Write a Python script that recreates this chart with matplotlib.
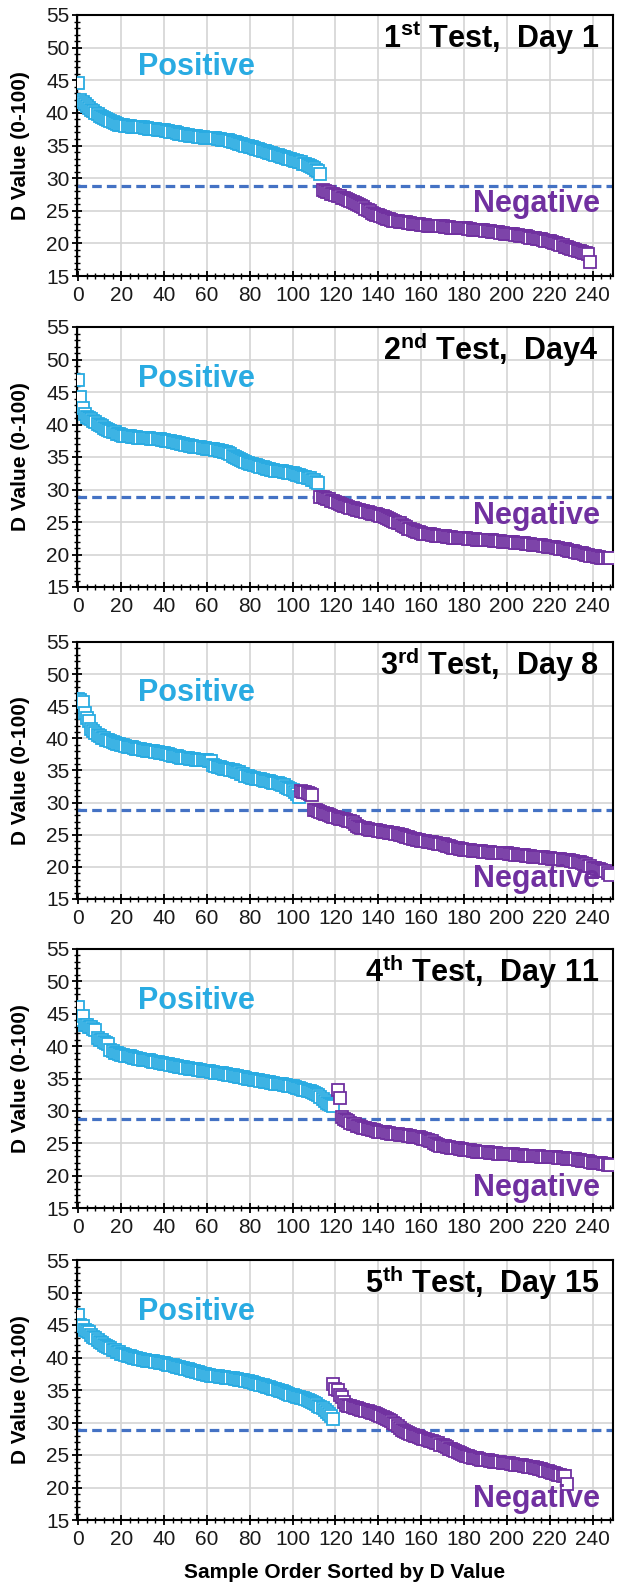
import matplotlib
matplotlib.use("Agg")
import matplotlib.pyplot as plt
from matplotlib.ticker import MultipleLocator
import numpy as np

plt.rcParams['font.family'] = ['Liberation Sans', 'DejaVu Sans']
plt.rcParams['mathtext.fontset'] = 'custom'
plt.rcParams['mathtext.rm'] = 'Liberation Sans'
plt.rcParams['mathtext.bf'] = 'Liberation Sans:bold'

# panel titles
ordinals = ["1", "2", "3", "4", "5"]
suffixes = ["st", "nd", "rd", "th", "th"]
days = ["Day 1", "Day4", "Day 8", "Day 11", "Day 15"]

cutoff = 28.8

# D values, sorted; positives start at sample 0
pos1 = [44.6, 42.0, 41.7, 41.3, 41.0, 40.8, 40.5, 40.3, 40.0, 39.8,
        39.5, 39.3, 39.2, 39.0, 38.9, 38.7, 38.6, 38.5, 38.3, 38.2,
        38.1, 38.1, 38.0, 38.0, 38.0, 37.9, 37.9, 37.9, 37.8, 37.8,
        37.8, 37.7, 37.7, 37.6, 37.6, 37.5, 37.5, 37.4, 37.4, 37.3,
        37.3, 37.2, 37.2, 37.1, 37.0, 37.0, 36.9, 36.8, 36.7, 36.7,
        36.6, 36.6, 36.5, 36.5, 36.4, 36.4, 36.3, 36.3, 36.3, 36.2,
        36.2, 36.2, 36.1, 36.1, 36.1, 36.0, 36.0, 35.9, 35.9, 35.8,
        35.8, 35.7, 35.6, 35.5, 35.4, 35.3, 35.2, 35.1, 35.0, 34.9,
        34.8, 34.7, 34.6, 34.5, 34.4, 34.3, 34.2, 34.1, 34.0, 33.9,
        33.8, 33.7, 33.6, 33.5, 33.4, 33.3, 33.2, 33.1, 33.0, 32.9,
        32.8, 32.7, 32.6, 32.5, 32.4, 32.2, 32.1, 32.0, 31.8, 31.7,
        31.5, 31.3, 31.1, 30.7]
neg1 = [28.2, 28.0, 27.9, 27.8, 27.6, 27.5,
        27.4, 27.3, 27.2, 27.0, 26.9, 26.8, 26.6, 26.5, 26.3, 26.2,
        26.1, 25.9, 25.7, 25.5, 25.3, 25.1, 24.9, 24.7, 24.5, 24.4,
        24.3, 24.2, 24.0, 23.9, 23.8, 23.7, 23.6, 23.5, 23.4, 23.4,
        23.3, 23.3, 23.2, 23.2, 23.1, 23.1, 23.0, 23.0, 22.9, 22.9,
        22.8, 22.8, 22.8, 22.7, 22.7, 22.7, 22.7, 22.6, 22.6, 22.6,
        22.6, 22.5, 22.5, 22.5, 22.4, 22.4, 22.4, 22.4, 22.3, 22.3,
        22.3, 22.3, 22.2, 22.2, 22.1, 22.1, 22.1, 22.0, 22.0, 22.0,
        21.9, 21.9, 21.9, 21.8, 21.8, 21.7, 21.7, 21.6, 21.6, 21.5,
        21.5, 21.5, 21.4, 21.4, 21.3, 21.3, 21.2, 21.2, 21.1, 21.1,
        21.0, 20.9, 20.9, 20.8, 20.7, 20.7, 20.6, 20.5, 20.4, 20.4,
        20.3, 20.2, 20.1, 20.0, 19.9, 19.8, 19.7, 19.5, 19.4, 19.3,
        19.2, 19.1, 19.0, 18.9, 18.8, 18.7, 18.6, 18.5, 18.4, 17.2]

pos2 = [46.8, 44.3, 42.6, 41.6, 41.2, 41.0, 40.8, 40.6, 40.4, 40.1,
        39.9, 39.7, 39.5, 39.3, 39.2, 39.0, 38.9, 38.8, 38.6, 38.5,
        38.4, 38.3, 38.3, 38.2, 38.2, 38.1, 38.1, 38.1, 38.0, 38.0,
        38.0, 37.9, 37.9, 37.9, 37.8, 37.8, 37.7, 37.7, 37.7, 37.6,
        37.6, 37.5, 37.5, 37.4, 37.3, 37.3, 37.2, 37.1, 37.0, 37.0,
        36.9, 36.8, 36.7, 36.7, 36.6, 36.6, 36.5, 36.5, 36.4, 36.4,
        36.3, 36.3, 36.2, 36.2, 36.1, 36.1, 36.0, 35.9, 35.8, 35.7,
        35.6, 35.4, 35.2, 35.0, 34.9, 34.7, 34.5, 34.4, 34.2, 34.1,
        34.0, 33.9, 33.8, 33.7, 33.6, 33.5, 33.4, 33.3, 33.2, 33.1,
        33.0, 33.0, 32.9, 32.9, 32.8, 32.8, 32.7, 32.7, 32.6, 32.6,
        32.5, 32.4, 32.3, 32.2, 32.1, 32.0, 31.9, 31.8, 31.7, 31.5,
        31.4, 31.2, 31.0]
neg2 = [28.9, 28.8, 28.7, 28.6, 28.5, 28.3, 28.2,
        28.1, 28.0, 27.8, 27.6, 27.5, 27.4, 27.3, 27.2, 27.1, 27.0,
        26.9, 26.8, 26.7, 26.7, 26.6, 26.5, 26.4, 26.3, 26.2, 26.2,
        26.1, 26.0, 25.9, 25.7, 25.6, 25.4, 25.3, 25.1, 25.0, 24.9,
        24.8, 24.6, 24.4, 24.2, 24.0, 23.9, 23.7, 23.6, 23.5, 23.4,
        23.3, 23.2, 23.2, 23.1, 23.1, 23.0, 23.0, 22.9, 22.9, 22.8,
        22.8, 22.8, 22.7, 22.7, 22.7, 22.6, 22.6, 22.6, 22.5, 22.5,
        22.5, 22.5, 22.4, 22.4, 22.4, 22.4, 22.3, 22.3, 22.3, 22.3,
        22.3, 22.2, 22.2, 22.2, 22.1, 22.1, 22.1, 22.1, 22.0, 22.0,
        22.0, 22.0, 21.9, 21.9, 21.8, 21.8, 21.8, 21.7, 21.7, 21.6,
        21.6, 21.6, 21.5, 21.5, 21.5, 21.4, 21.4, 21.3, 21.3, 21.2,
        21.2, 21.1, 21.1, 21.0, 21.0, 20.9, 20.8, 20.8, 20.7, 20.6,
        20.5, 20.5, 20.4, 20.3, 20.3, 20.2, 20.1, 20.0, 19.9, 19.8,
        19.7, 19.7, 19.6, 19.6, 19.5, 19.5, 19.5, 19.4, 19.4]

pos3 = [46.1, 45.9, 45.6, 44.0, 43.2, 42.7, 41.5, 41.1, 40.9, 40.6,
        40.3, 40.1, 40.0, 39.8, 39.7, 39.6, 39.4, 39.3, 39.2, 39.1,
        39.0, 38.9, 38.8, 38.7, 38.6, 38.6, 38.5, 38.4, 38.3, 38.3,
        38.2, 38.2, 38.1, 38.1, 38.0, 38.0, 37.9, 37.9, 37.8, 37.8,
        37.7, 37.6, 37.5, 37.4, 37.3, 37.2, 37.2, 37.1, 37.0, 37.0,
        36.9, 36.9, 36.8, 36.8, 36.8, 36.7, 36.7, 36.7, 36.6, 36.6,
        36.6, 36.5, 36.5, 35.8, 35.7, 35.6, 35.5, 35.4, 35.3, 35.3,
        35.2, 35.1, 35.0, 34.9, 34.8, 34.7, 34.5, 34.4, 34.2, 34.1,
        34.0, 33.9, 33.8, 33.7, 33.7, 33.6, 33.5, 33.4, 33.3, 33.3,
        33.2, 33.1, 33.0, 33.0, 32.9, 32.8, 32.7, 32.5, 32.3, 32.1,
        32.0, 31.7, 31.3, 30.9]
neg3 = [31.8, 31.7, 31.6, 31.5, 31.3, 31.2,
        28.9, 28.8, 28.7, 28.6, 28.4, 28.3, 28.2, 28.1, 27.9, 27.8,
        27.7, 27.6, 27.5, 27.5, 27.4, 27.3, 27.2, 27.1, 27.0, 26.6,
        26.3, 26.2, 26.1, 26.0, 26.0, 25.9, 25.8, 25.8, 25.7, 25.7,
        25.6, 25.6, 25.5, 25.5, 25.4, 25.3, 25.3, 25.2, 25.1, 25.1,
        25.0, 24.9, 24.8, 24.7, 24.6, 24.5, 24.4, 24.3, 24.2, 24.2,
        24.1, 24.0, 24.0, 23.9, 23.9, 23.8, 23.7, 23.7, 23.6, 23.6,
        23.5, 23.4, 23.3, 23.2, 23.1, 23.0, 23.0, 22.9, 22.8, 22.8,
        22.7, 22.7, 22.6, 22.6, 22.5, 22.5, 22.4, 22.4, 22.4, 22.3,
        22.3, 22.3, 22.3, 22.2, 22.2, 22.2, 22.2, 22.1, 22.1, 22.1,
        22.1, 22.0, 22.0, 22.0, 21.9, 21.9, 21.9, 21.8, 21.8, 21.7,
        21.7, 21.7, 21.6, 21.6, 21.6, 21.5, 21.5, 21.5, 21.4, 21.4,
        21.4, 21.3, 21.3, 21.3, 21.2, 21.2, 21.1, 21.1, 21.0, 21.0,
        20.9, 20.9, 20.8, 20.7, 20.7, 20.6, 20.5, 20.4, 20.2, 20.1,
        19.9, 19.8, 19.7, 19.6, 19.5, 19.4, 19.3, 19.1, 18.8]

pos4 = [46.0, 44.1, 44.7, 43.3, 43.2, 43.0, 42.9, 42.6, 42.5, 41.3,
        41.0, 40.9, 40.7, 40.5, 40.3, 39.4, 39.2, 39.0, 38.9, 38.8,
        38.7, 38.6, 38.5, 38.5, 38.4, 38.3, 38.2, 38.1, 38.0, 38.0,
        37.9, 37.9, 37.8, 37.8, 37.7, 37.6, 37.6, 37.5, 37.4, 37.4,
        37.3, 37.3, 37.2, 37.1, 37.1, 37.0, 36.9, 36.8, 36.8, 36.7,
        36.6, 36.6, 36.5, 36.5, 36.4, 36.4, 36.3, 36.3, 36.2, 36.2,
        36.1, 36.1, 36.0, 36.0, 35.9, 35.9, 35.8, 35.8, 35.7, 35.7,
        35.6, 35.6, 35.5, 35.4, 35.4, 35.3, 35.2, 35.2, 35.1, 35.0,
        34.9, 34.9, 34.8, 34.7, 34.7, 34.6, 34.6, 34.5, 34.4, 34.4,
        34.3, 34.3, 34.2, 34.2, 34.1, 34.1, 34.0, 34.0, 33.9, 33.9,
        33.8, 33.7, 33.6, 33.5, 33.4, 33.3, 33.2, 33.1, 33.0, 32.9,
        32.8, 32.6, 32.4, 32.1, 31.8, 31.5, 31.2, 31.0, 30.9, 30.7]
neg4 = [33.3, 32.0, 29.0, 28.8, 28.6, 28.4, 28.2, 28.0, 27.9,
        27.7, 27.6, 27.5, 27.4, 27.3, 27.2, 27.2, 27.1, 27.0, 26.9,
        26.8, 26.8, 26.7, 26.7, 26.6, 26.6, 26.5, 26.5, 26.4, 26.4,
        26.3, 26.3, 26.2, 26.2, 26.1, 26.1, 26.0, 26.0, 25.9, 25.9,
        25.8, 25.7, 25.6, 25.5, 25.4, 25.3, 25.1, 24.9, 24.7, 24.6,
        24.5, 24.5, 24.4, 24.4, 24.3, 24.3, 24.2, 24.2, 24.1, 24.1,
        24.0, 24.0, 23.9, 23.9, 23.8, 23.8, 23.7, 23.7, 23.7, 23.6,
        23.6, 23.6, 23.5, 23.5, 23.5, 23.5, 23.4, 23.4, 23.4, 23.4,
        23.4, 23.3, 23.3, 23.3, 23.2, 23.2, 23.2, 23.2, 23.1, 23.1,
        23.1, 23.1, 23.0, 23.0, 23.0, 23.0, 22.9, 22.9, 22.9, 22.9,
        22.9, 22.8, 22.8, 22.8, 22.7, 22.7, 22.7, 22.7, 22.6, 22.6,
        22.6, 22.5, 22.5, 22.4, 22.4, 22.3, 22.3, 22.2, 22.2, 22.1,
        22.0, 22.0, 21.9, 21.9, 21.9, 21.8, 21.8, 21.7, 21.7]

pos5 = [46.5, 45.0, 44.8, 44.3, 44.1, 44.0, 43.5, 43.2, 43.0, 42.7,
        42.4, 42.2, 42.0, 41.8, 41.6, 41.4, 41.2, 41.1, 40.9, 40.8,
        40.6, 40.5, 40.4, 40.3, 40.2, 40.1, 40.0, 39.9, 39.8, 39.7,
        39.6, 39.6, 39.5, 39.5, 39.4, 39.4, 39.3, 39.3, 39.2, 39.2,
        39.1, 39.0, 38.9, 38.9, 38.8, 38.7, 38.6, 38.5, 38.4, 38.4,
        38.3, 38.2, 38.1, 38.0, 37.9, 37.8, 37.7, 37.6, 37.5, 37.4,
        37.3, 37.3, 37.2, 37.2, 37.1, 37.1, 37.0, 37.0, 37.0, 36.9,
        36.9, 36.8, 36.8, 36.7, 36.7, 36.6, 36.6, 36.5, 36.4, 36.4,
        36.3, 36.2, 36.1, 36.0, 35.9, 35.8, 35.7, 35.6, 35.5, 35.4,
        35.3, 35.2, 35.1, 35.0, 34.9, 34.8, 34.7, 34.6, 34.4, 34.3,
        34.2, 34.1, 34.0, 33.9, 33.8, 33.7, 33.6, 33.4, 33.3, 33.1,
        33.0, 32.8, 32.6, 32.4, 32.2, 31.9, 31.6, 31.3, 31.0, 30.6]
neg5 = [36.0, 35.2, 35.0, 34.2, 34.0, 33.2, 32.7, 32.6, 32.5, 32.4, 32.3,
        32.2, 32.1, 32.0, 31.9, 31.8, 31.7, 31.6, 31.5, 31.4, 31.3,
        31.2, 31.0, 30.9, 30.7, 30.5, 30.4, 30.2, 30.0, 29.8, 29.5,
        29.1, 28.9, 28.7, 28.5, 28.4, 28.3, 28.1, 28.0, 27.9, 27.7,
        27.6, 27.5, 27.4, 27.3, 27.2, 27.1, 27.0, 26.9, 26.8, 26.6,
        26.5, 26.4, 26.2, 26.0, 25.9, 25.8, 25.6, 25.4, 25.3, 25.1,
        25.0, 24.9, 24.8, 24.7, 24.6, 24.6, 24.5, 24.4, 24.3, 24.3,
        24.2, 24.2, 24.1, 24.1, 24.0, 24.0, 23.9, 23.9, 23.8, 23.8,
        23.7, 23.7, 23.6, 23.6, 23.5, 23.5, 23.4, 23.4, 23.3, 23.3,
        23.2, 23.2, 23.1, 23.0, 23.0, 22.9, 22.8, 22.7, 22.6, 22.5,
        22.4, 22.3, 22.2, 22.1, 22.0, 21.9, 21.8, 21.7, 20.6]

positives = [pos1, pos2, pos3, pos4, pos5]
negatives = [neg1, neg2, neg3, neg4, neg5]
neg_first = [114, 113, 104, 121, 119]   # sample order of first negative

pos_color = '#29ABE2'
neg_color = '#7030A0'
line_color = '#4472C4'

fig = plt.figure(figsize=(6.18, 15.83), dpi=100)
H = 1583.0
tops = [15, 327, 642, 949, 1260]
bottoms = [276, 587, 899, 1208, 1520]
negy = [24.8, 24.7, 16.9, 16.8, 17.0]

for i in range(5):
    ax = fig.add_axes([77 / 618, 1 - bottoms[i] / H, 536 / 618, (bottoms[i] - tops[i]) / H])
    xp = np.arange(len(positives[i]))
    xn = np.arange(len(negatives[i])) + neg_first[i]
    ax.axhline(cutoff, color=line_color, lw=2.3, ls=(0, (3.0, 1.6)), zorder=2)
    ax.plot(xp, positives[i], ls='none', marker='s', ms=8.8, mew=1.3,
            mfc='white', mec=pos_color, zorder=3)
    ax.plot(xn, negatives[i], ls='none', marker='s', ms=8.8, mew=1.3,
            mfc='white', mec=neg_color, zorder=3)

    ax.set_xlim(-0.6, 249.5)
    ax.set_ylim(15, 55)
    ax.xaxis.set_major_locator(MultipleLocator(20))
    ax.xaxis.set_minor_locator(MultipleLocator(4))
    ax.yaxis.set_major_locator(MultipleLocator(5))
    ax.yaxis.set_minor_locator(MultipleLocator(1))
    ax.grid(True, which='major', color='#d4d4d4', lw=1.2, zorder=0)
    ax.set_axisbelow(True)
    ax.tick_params(which='major', direction='inout', length=7, width=1.3,
                   labelsize=15, pad=2, labelcolor='#1a1a1a')
    ax.tick_params(axis='x', which='major', pad=4)
    ax.tick_params(which='minor', direction='inout', length=4, width=1.0)
    for s in ax.spines.values():
        s.set_linewidth(1.5)
        s.set_color('black')

    ax.set_ylabel('D Value (0-100)', fontsize=15, fontweight='bold')
    ax.yaxis.set_label_coords(-0.088, 0.5)

    ax.text(243, 49.9, ordinals[i] + r'$^{\mathbf{' + suffixes[i] + '}}$ Test,  ' + days[i],
            ha='right', va='baseline', fontsize=22, fontweight='bold', color='black')
    ax.text(28, 45.8, 'Positive', ha='left', va='baseline', fontsize=22,
            fontweight='bold', color=pos_color)
    ax.text(243.5, negy[i], 'Negative', ha='right', va='baseline', fontsize=22,
            fontweight='bold', color=neg_color, zorder=5)

fig.text(345 / 618, 5 / H, 'Sample Order Sorted by D Value', ha='center',
         va='baseline', fontsize=15, fontweight='bold')

fig.savefig('out.png', dpi=100)
